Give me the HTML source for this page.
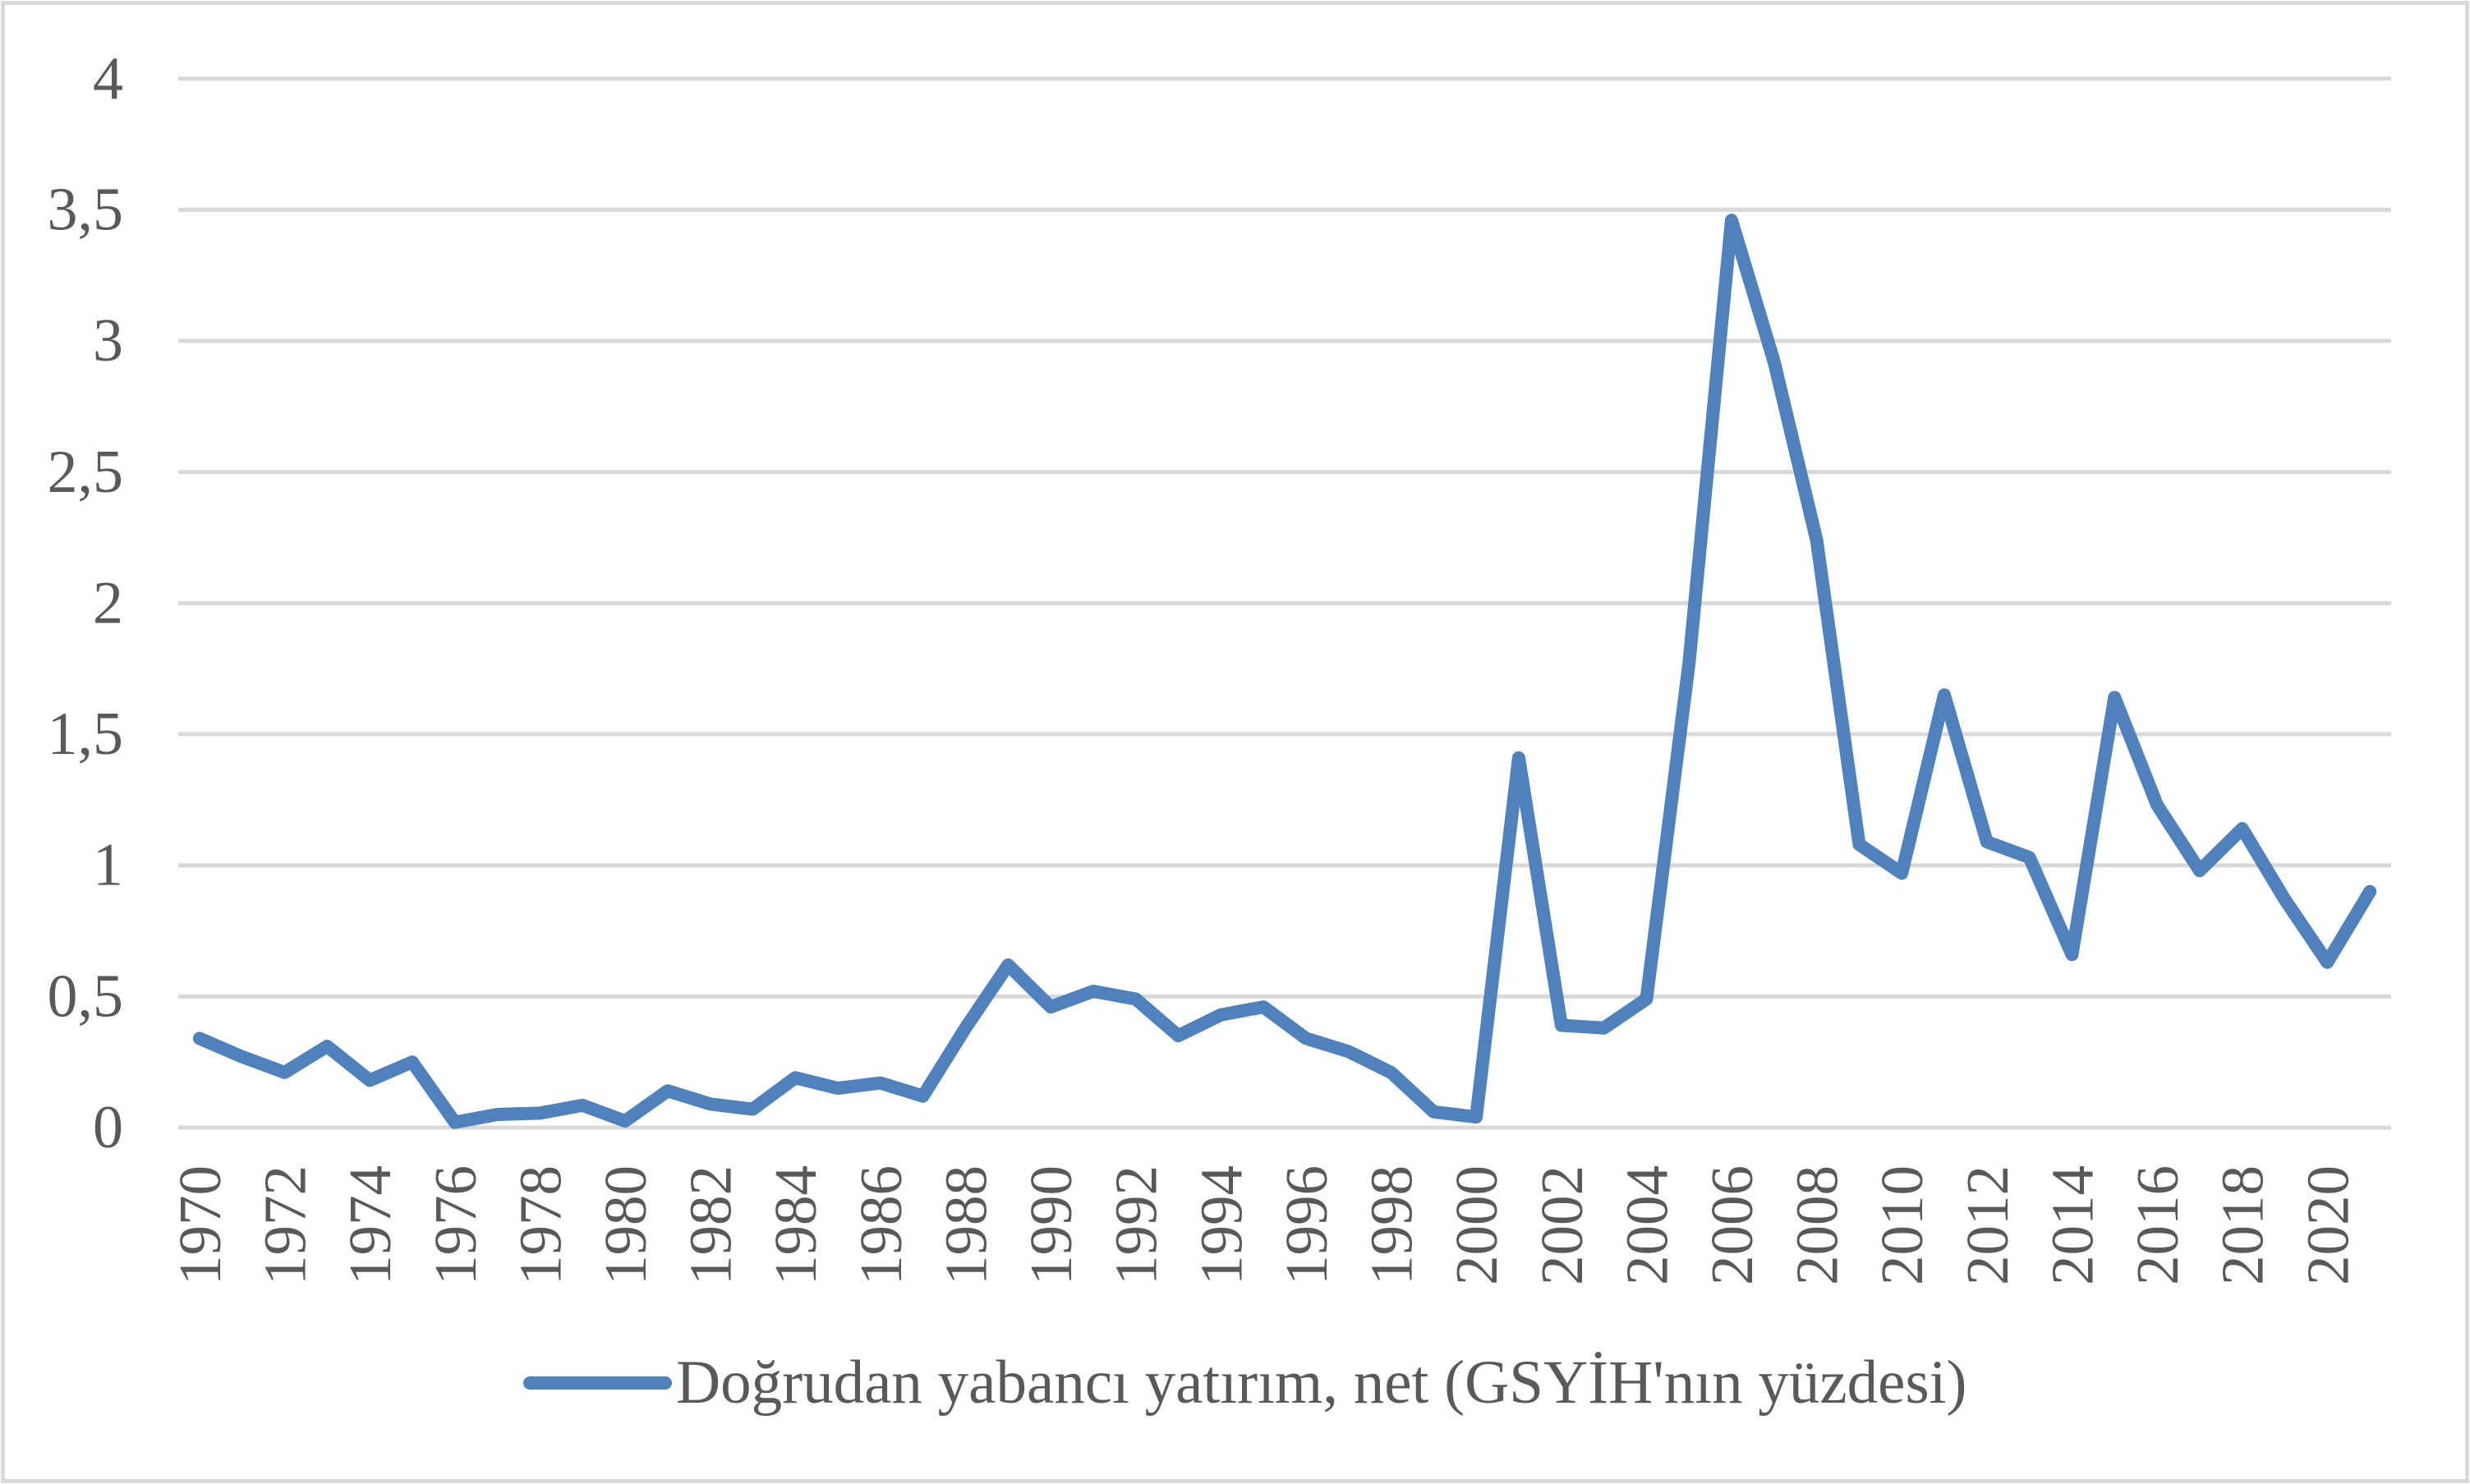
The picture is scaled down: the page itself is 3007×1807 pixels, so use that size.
<!DOCTYPE html>
<html><head><meta charset="utf-8"><style>
html,body{margin:0;padding:0;background:#fff;}
svg{display:block;}
text{font-family:"Liberation Serif",serif;fill:#595959;}
</style></head><body>
<svg width="3007" height="1807" viewBox="0 0 3007 1807" xmlns="http://www.w3.org/2000/svg">
<rect x="3.5" y="3.5" width="3000" height="1800" fill="#fff" stroke="#d9d9d9" stroke-width="5"/>
<g id="grid" stroke="#d9d9d9" stroke-width="5"></g>
<g id="ylab" font-size="74" text-anchor="end"></g>
<g id="xlab" font-size="73"></g>
<polyline id="line" fill="none" stroke="#4f81bd" stroke-width="16" stroke-linejoin="round" stroke-linecap="round"/>
<line x1="645" y1="1684" x2="810" y2="1684" stroke="#4f81bd" stroke-width="16" stroke-linecap="round"/>
<text x="823" y="1708" font-size="75">Doğrudan yabancı yatırım, net (GSYİH'nın yüzdesi)</text>
</svg>
<script>
var NS="http://www.w3.org/2000/svg";
var x0=217,x1=2911,y0=1373,yu=319.3;
var g=document.getElementById('grid'),yl=document.getElementById('ylab'),xl=document.getElementById('xlab');
var labs=["0","0,5","1","1,5","2","2,5","3","3,5","4"];
for(var i=0;i<=8;i++){var y=y0-i*0.5*yu;
 var l=document.createElementNS(NS,'line');l.setAttribute('x1',x0);l.setAttribute('x2',x1);l.setAttribute('y1',y);l.setAttribute('y2',y);g.appendChild(l);
 var t=document.createElementNS(NS,'text');t.setAttribute('x',150);t.setAttribute('y',y+24);t.textContent=labs[i];yl.appendChild(t);}
var d=[0.34,0.27,0.21,0.31,0.18,0.25,0.02,0.05,0.055,0.085,0.025,0.14,0.09,0.07,0.19,0.15,0.17,0.12,0.38,0.62,0.46,0.52,0.49,0.35,0.43,0.46,0.34,0.29,0.21,0.06,0.04,1.41,0.39,0.38,0.49,1.77,3.46,2.92,2.24,1.08,0.97,1.65,1.09,1.03,0.66,1.64,1.23,0.98,1.14,0.87,0.63,0.90];
var w=(x1-x0)/d.length,pts=[];
for(var i=0;i<d.length;i++){var x=x0+w*(i+0.5);pts.push(x.toFixed(1)+","+(y0-d[i]*yu).toFixed(1));
 if(i%2==0){var t=document.createElementNS(NS,'text');t.setAttribute('transform','translate('+(x+25)+',1565) rotate(-90)');t.textContent=1970+i;xl.appendChild(t);}}
document.getElementById('line').setAttribute('points',pts.join(' '));
</script>
</body></html>
